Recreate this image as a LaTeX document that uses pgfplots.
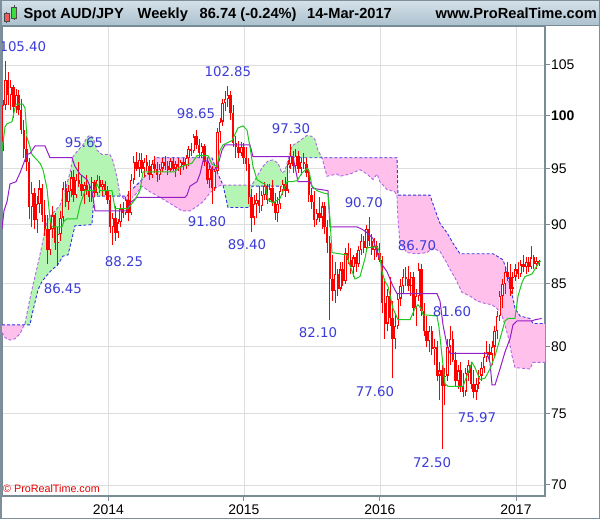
\documentclass[border=0pt]{standalone}
\usepackage{fontspec}
\setmainfont{Liberation Sans}
\newfontfamily\dejavu{DejaVu Sans}
\usepackage{pgfplots}
\pgfplotsset{compat=1.18}
\usepackage{pgfplotstable}

\definecolor{candlered}{RGB}{255,0,0}
\definecolor{tenkan}{RGB}{30,200,30}
\definecolor{kijun}{RGB}{150,30,200}
\definecolor{spanA}{RGB}{176,100,230}
\definecolor{spanB}{RGB}{50,50,230}
\definecolor{cloudgreen}{RGB}{180,245,180}
\definecolor{cloudpink}{RGB}{255,192,235}
\definecolor{lblblue}{RGB}{60,60,215}
\definecolor{gridgray}{RGB}{222,222,222}
\definecolor{axisgray}{RGB}{120,140,150}
\definecolor{hdrtop}{RGB}{214,226,234}
\definecolor{hdrbot}{RGB}{170,192,205}
\definecolor{bordergray}{RGB}{125,143,155}

\pgfplotstableread{
w o h l c
0 97.5 101.5 96.6 101.0
1 101.0 105.4 100.5 103.5
2 103.5 104.3 101.0 102.0
3 102.0 103.5 100.5 102.8
4 102.8 103.0 99.8 100.8
5 100.8 102.6 100.2 102.0
6 102.0 102.5 100.0 100.5
7 100.5 101.6 98.2 98.6
8 98.6 99.6 96.0 96.8
9 96.8 98.0 94.8 95.6
10 95.6 96.0 90.5 91.5
11 91.5 93.8 89.8 92.8
12 92.8 93.2 89.6 90.4
13 90.4 92.5 89.3 91.8
14 91.8 94.0 91.0 93.2
15 93.2 93.6 90.2 90.8
16 90.8 92.2 89.0 89.6
17 89.6 90.8 86.6 87.8
18 87.8 90.3 87.4 89.6
19 89.6 91.6 88.8 90.8
20 90.8 91.0 87.8 88.4
21 88.4 89.8 86.45 89.2
22 89.2 91.2 88.6 90.6
23 90.6 93.8 90.2 93.2
24 93.2 93.9 91.5 92.0
25 92.0 93.5 91.3 93.0
26 93.0 94.8 92.4 94.2
27 94.2 94.9 92.0 92.6
28 92.6 94.5 92.3 94.0
29 94.0 95.65 93.3 93.6
30 93.6 94.4 92.5 93.0
31 93.0 93.8 91.8 93.5
32 93.5 94.4 92.6 93.0
33 93.0 93.6 92.0 92.4
34 92.4 94.2 92.0 93.8
35 93.8 94.0 92.4 92.8
36 92.8 94.4 92.6 94.0
37 94.0 94.3 92.8 93.3
38 93.3 94.0 92.5 93.6
39 93.6 93.9 92.6 93.0
40 93.0 93.4 91.8 92.2
41 92.2 92.6 89.3 89.8
42 89.8 91.0 88.25 90.6
43 90.6 91.6 88.6 89.3
44 89.3 90.5 88.8 90.2
45 90.2 91.8 89.8 91.4
46 91.4 92.0 90.6 91.0
47 91.0 92.4 90.8 92.2
48 92.2 93.0 90.3 91.0
49 91.0 94.5 90.8 94.0
50 94.0 96.2 93.6 95.6
51 95.6 96.5 94.8 95.0
52 95.0 96.4 94.2 95.8
53 95.8 96.4 94.6 95.0
54 95.0 96.0 94.2 95.6
55 95.6 96.3 94.8 95.2
56 95.2 95.8 94.0 94.4
57 94.4 95.8 94.1 95.4
58 95.4 96.2 94.6 95.0
59 95.0 95.6 93.8 94.4
60 94.4 95.4 94.0 95.0
61 95.0 96.0 94.7 95.6
62 95.6 96.2 94.9 95.2
63 95.2 95.7 94.4 94.9
64 94.9 96.0 94.7 95.7
65 95.7 96.1 94.8 95.0
66 95.0 95.7 94.2 95.4
67 95.4 96.0 94.8 95.1
68 95.1 95.8 94.4 95.6
69 95.6 96.0 94.9 95.3
70 95.3 96.3 95.0 96.0
71 96.0 97.1 95.2 96.8
72 96.8 97.4 96.2 96.6
73 96.6 98.2 96.4 98.0
74 98.0 98.65 96.8 97.2
75 97.2 97.8 96.0 96.4
76 96.4 97.4 96.0 97.1
77 97.1 97.3 95.2 95.6
78 95.6 96.0 93.6 94.0
79 94.0 95.5 93.2 95.0
80 95.0 95.2 91.8 93.2
81 93.2 95.0 93.0 94.8
82 94.8 98.8 94.6 98.4
83 98.4 99.8 97.4 99.4
84 99.4 101.6 99.0 101.2
85 101.2 102.4 100.4 101.6
86 101.6 102.85 100.8 102.0
87 102.0 102.4 99.6 100.2
88 100.2 101.0 97.0 97.4
89 97.4 98.0 96.0 97.0
90 97.0 97.6 96.0 96.4
91 96.4 97.5 96.2 97.0
92 97.0 97.4 95.4 96.0
93 96.0 97.0 94.8 95.4
94 95.4 96.0 91.8 92.4
95 92.4 93.0 89.4 90.6
96 90.6 92.6 90.0 91.8
97 91.8 92.8 90.6 92.2
98 92.2 93.4 91.0 91.6
99 91.6 93.0 91.2 92.6
100 92.6 93.8 92.2 93.4
101 93.4 93.6 91.8 92.2
102 92.2 93.6 92.0 93.2
103 93.2 94.0 91.6 92.0
104 92.0 92.8 90.4 91.0
105 91.0 92.4 90.2 91.8
106 91.8 93.4 91.4 93.0
107 93.0 94.0 92.6 93.6
108 93.6 94.2 92.4 93.0
109 93.0 95.8 92.8 95.4
110 95.4 97.3 95.0 96.2
111 96.2 96.6 94.6 95.2
112 95.2 96.8 94.8 96.2
113 96.2 96.6 94.6 95.0
114 95.0 96.0 94.4 95.6
115 95.6 96.4 95.0 95.4
116 95.4 96.0 94.2 94.6
117 94.6 95.0 92.0 92.6
118 92.6 93.2 91.4 92.0
119 92.0 93.0 89.8 90.4
120 90.4 91.4 90.0 91.0
121 91.0 92.4 90.2 90.6
122 90.6 92.0 89.6 91.6
123 91.6 92.0 89.2 89.8
124 89.8 90.4 87.6 88.4
125 88.4 89.0 82.1 85.4
126 85.4 87.4 83.6 84.4
127 84.4 86.8 83.4 85.8
128 85.8 86.2 84.0 84.6
129 84.6 86.8 84.4 86.2
130 86.2 86.8 84.8 85.2
131 85.2 88.0 85.0 87.6
132 87.6 88.4 86.6 87.0
133 87.0 88.0 85.8 86.4
134 86.4 87.4 85.6 87.2
135 87.2 87.6 86.0 86.6
136 86.6 88.2 86.4 87.8
137 87.8 89.2 87.4 88.6
138 88.6 89.0 87.6 88.0
139 88.0 90.0 87.8 89.6
140 89.6 90.7 88.2 88.6
141 88.6 89.2 87.4 87.8
142 87.8 88.8 87.0 88.2
143 88.2 88.6 87.2 87.6
144 87.6 88.4 86.8 87.0
145 87.0 87.3 82.6 83.4
146 83.4 85.2 80.6 81.8
147 81.8 84.6 81.2 84.0
148 84.0 85.6 81.6 82.2
149 82.2 83.6 77.6 80.6
150 80.6 82.6 79.8 81.6
151 81.6 84.2 81.4 83.8
152 83.8 85.4 83.2 84.8
153 84.8 86.2 84.2 85.6
154 85.6 86.4 84.8 85.4
155 85.4 86.5 84.4 84.8
156 84.8 86.0 84.0 85.6
157 85.6 86.0 82.4 83.0
158 83.0 84.6 81.6 84.0
159 84.0 86.7 83.6 86.2
160 86.2 86.6 82.4 82.8
161 82.8 83.4 80.8 81.2
162 81.2 82.4 80.0 80.4
163 80.4 81.6 79.6 81.2
164 81.2 81.6 79.4 79.8
165 79.8 80.6 78.6 80.0
166 80.0 80.4 77.4 77.8
167 77.8 78.8 76.0 78.2
168 78.2 78.6 72.5 77.0
169 77.0 78.4 75.6 77.8
170 77.8 80.6 77.4 80.0
171 80.0 81.6 78.6 80.6
172 80.6 81.2 78.8 79.0
173 79.0 79.6 77.0 77.4
174 77.4 78.6 76.8 78.2
175 78.2 78.8 76.6 77.0
176 77.0 78.0 76.2 76.6
177 76.6 78.4 76.3 78.0
178 78.0 79.0 77.4 78.6
179 78.6 78.8 76.8 77.2
180 77.2 78.2 76.1 76.6
181 76.6 77.6 75.97 77.2
182 77.2 78.2 76.8 77.8
183 77.8 78.8 77.4 78.4
184 78.4 79.6 78.0 79.2
185 79.2 80.4 78.8 79.6
186 79.6 80.2 78.8 79.4
187 79.4 80.4 78.6 80.0
188 80.0 81.6 79.2 81.2
189 81.2 82.8 80.6 82.4
190 82.4 84.4 82.0 84.0
191 84.0 85.4 83.0 85.0
192 85.0 86.4 84.2 86.0
193 86.0 86.8 85.2 85.6
194 85.6 86.6 84.0 84.6
195 84.6 86.0 84.2 85.6
196 85.6 86.6 85.2 86.2
197 86.2 86.8 85.4 85.8
198 85.8 87.0 85.6 86.6
199 86.6 87.4 86.0 86.4
200 86.4 87.2 85.8 86.8
201 86.8 87.2 86.0 86.4
202 86.4 88.2 86.2 87.2
203 87.2 87.4 86.2 86.6
204 86.6 87.2 86.2 86.9
205 86.9 87.0 86.5 86.74
}\candles

\begin{document}
\begin{tikzpicture}
\path[use as bounding box] (0bp,0bp) rectangle (600bp,519bp);
\fill[white] (0bp,0bp) rectangle (600bp,519bp);
\begin{axis}[
  at={(2bp,23bp)}, anchor=south west,
  scale only axis, width=543bp, height=470bp,
  xmin=-0.38, xmax=207.27,
  ymode=log, ymin=69.26, ymax=109.03,
  xtick={40.27,92.16,144.17,196.18},
  xticklabels={2014,2015,2016,2017},
  ytick={70,75,80,85,90,95,100,105},
  yticklabels={70,75,80,85,90,95,\textbf{100},105},
  minor tick num=0,
  xtick pos=bottom, ytick pos=right,
  yticklabel pos=right,
  tick align=outside,
  major tick length=5bp,
  tick style={draw=axisgray, line width=1bp},
  grid=major,
  major grid style={draw=gridgray, line width=0.8bp},
  axis line style={draw=axisgray, line width=1.2bp},
  ticklabel style={font=\fontsize{14}{16}\selectfont, text=black},
  yticklabel style={xshift=-2.5bp},
  clip=true,
]
% Ichimoku cloud: areas between the two spans
\addplot[fill=cloudpink, draw=none, forget plot] coordinates {
(-0.38,81.7) (8.16,81.7) (7.65,81.5) (6.50,81.0) (4.59,80.6) (2.68,80.5) (0.76,80.7) (-0.38,81.1)
} -- cycle;
\addplot[fill=cloudgreen, draw=none, forget plot] coordinates {
(8.16,81.7) (8.41,81.8) (10.33,83.8) (11.47,84.9) (13.0,86.3) (14.91,88.2) (16.06,89.6) (17.21,90.5) (21.80,91.7) (23.71,93.0) (25.62,94.6) (26.77,96.1) (28.68,96.7) (30.59,97.2) (32.12,97.9) (33.27,98.1) (34.42,97.9) (35.95,96.7) (37.86,96.3) (40.92,96.3) (42.07,95.7) (43.59,94.2) (44.74,92.6) (45.2,92.5) (34.80,92.5) (34.03,90.0) (27.53,89.9) (26.39,88.8) (24.86,87.4) (22.94,87.3) (21.03,86.6) (17.97,86.0) (14.91,85.2) (13.38,84.5) (12.24,83.5) (11.09,82.5) (10.33,81.7)
} -- cycle;
\addplot[fill=cloudpink, draw=none, forget plot] coordinates {
(45.2,92.5) (47.42,92.5) (49.71,93.2) (52.39,93.8) (56.21,94.8) (58.13,96.0) (79.92,96.0) (82.22,94.5) (84.13,93.5) (82.22,93.4) (79.16,92.8) (76.48,92.0) (74.19,91.6) (71.51,91.2) (68.45,91.2) (65.01,91.7) (60.04,92.4) (56.21,92.9) (53.15,93.4) (50.48,92.6) (48.57,92.2) (46.65,92.2)
} -- cycle;
\addplot[fill=cloudgreen, draw=none, forget plot] coordinates {
(84.13,93.5) (95.22,93.5) (97.13,94.3) (99.43,95.2) (101.34,95.7) (103.25,95.8) (105.16,95.5) (106.69,94.6) (107.84,94.8) (108.99,95.8) (110.52,97.1) (113.58,97.6) (116.25,98.1) (118.16,98.0) (119.31,97.7) (120.46,96.7) (121.99,96.0) (109.75,96.0) (108.99,93.4) (95.22,93.4) (94.46,91.5) (86.04,91.5)
} -- cycle;
\addplot[fill=cloudpink, draw=none, forget plot] coordinates {
(121.99,96.0) (150.67,96.0) (151.05,92.6) (163.29,92.6) (165.20,91.3) (167.11,90.1) (169.79,89.3) (172.08,88.4) (174.76,87.5) (187.38,87.5) (191.20,87.0) (192.73,86.0) (193.88,84.8) (195.03,83.8) (195.79,83.0) (197.71,82.4) (201.53,82.2) (202.68,81.8) (207.27,81.8) (207.27,78.8) (202.68,78.8) (201.53,78.3) (195.79,78.4) (194.65,79.3) (193.50,80.5) (191.97,81.7) (190.82,82.4) (188.91,83.0) (187.00,83.3) (184.32,83.4) (181.26,83.6) (178.59,84.0) (175.53,84.3) (172.85,85.5) (170.94,86.2) (169.79,86.7) (167.11,87.7) (164.44,88.0) (162.14,87.6) (158.32,87.5) (154.49,87.6) (151.82,88.4) (151.05,90.5) (150.67,92.5) (149.90,92.9) (146.85,93.1) (144.17,93.8) (143.02,94.5) (141.49,94.0) (139.20,94.5) (136.52,94.9) (132.70,94.5) (128.87,94.3) (127.72,94.5) (123.90,94.3)
} -- cycle;
% Senkou span A and B (dashed)
\addplot[spanA, line width=0.9bp, dash pattern=on 3bp off 2bp, forget plot] coordinates {
(-0.38,81.1) (0.76,80.7) (2.68,80.5) (4.59,80.6) (6.50,81.0) (7.65,81.5) (8.41,81.8) (10.33,83.8) (11.47,84.9) (13.0,86.3) (14.91,88.2) (16.06,89.6) (17.21,90.5) (21.80,91.7) (23.71,93.0) (25.62,94.6) (26.77,96.1) (28.68,96.7) (30.59,97.2) (32.12,97.9) (33.27,98.1) (34.42,97.9) (35.95,96.7) (37.86,96.3) (40.92,96.3) (42.07,95.7) (43.59,94.2) (44.74,92.6) (46.65,92.2) (48.57,92.2) (50.48,92.6) (53.15,93.4) (56.21,92.9) (60.04,92.4) (65.01,91.7) (68.45,91.2) (71.51,91.2) (74.19,91.6) (76.48,92.0) (79.16,92.8) (82.22,93.4) (84.13,93.5) (95.22,93.5) (97.13,94.3) (99.43,95.2) (101.34,95.7) (103.25,95.8) (105.16,95.5) (106.69,94.6) (107.84,94.8) (108.99,95.8) (110.52,97.1) (113.58,97.6) (116.25,98.1) (118.16,98.0) (119.31,97.7) (120.46,96.7) (121.99,96.0) (123.90,94.3) (127.72,94.5) (128.87,94.3) (132.70,94.5) (136.52,94.9) (139.20,94.5) (141.49,94.0) (143.02,94.5) (144.17,93.8) (146.85,93.1) (149.90,92.9) (150.67,92.5) (151.05,90.5) (151.82,88.4) (154.49,87.6) (158.32,87.5) (162.14,87.6) (164.44,88.0) (167.11,87.7) (169.79,86.7) (170.94,86.2) (172.85,85.5) (175.53,84.3) (178.59,84.0) (181.26,83.6) (184.32,83.4) (187.00,83.3) (188.91,83.0) (190.82,82.4) (191.97,81.7) (193.50,80.5) (194.65,79.3) (195.79,78.4) (201.53,78.3) (202.68,78.8) (207.27,78.8)
};
\addplot[spanB, line width=0.9bp, dash pattern=on 3bp off 2bp, forget plot] coordinates {
(-0.38,81.7) (10.33,81.7) (11.09,82.5) (12.24,83.5) (13.38,84.5) (14.91,85.2) (17.97,86.0) (21.03,86.6) (22.94,87.3) (24.86,87.4) (26.39,88.8) (27.53,89.9) (34.03,90.0) (34.80,92.5) (47.42,92.5) (49.71,93.2) (52.39,93.8) (56.21,94.8) (58.13,96.0) (79.92,96.0) (82.22,94.5) (84.13,93.5) (86.04,91.5) (94.46,91.5) (95.22,93.4) (108.99,93.4) (109.75,96.0) (150.67,96.0) (151.05,92.6) (163.29,92.6) (165.20,91.3) (167.11,90.1) (169.79,89.3) (172.08,88.4) (174.76,87.5) (187.38,87.5) (191.20,87.0) (192.73,86.0) (193.88,84.8) (195.03,83.8) (195.79,83.0) (197.71,82.4) (201.53,82.2) (202.68,81.8) (207.27,81.8)
};

% candles: wick and body of every week, read from the table;
% rising weeks get a hollow (white) body centre
\pgfplotsinvokeforeach{0,...,205}{
  \pgfplotstablegetelem{#1}{o}\of\candles \let\cO\pgfplotsretval
  \pgfplotstablegetelem{#1}{h}\of\candles \let\cH\pgfplotsretval
  \pgfplotstablegetelem{#1}{l}\of\candles \let\cL\pgfplotsretval
  \pgfplotstablegetelem{#1}{c}\of\candles \let\cC\pgfplotsretval
  \pgfmathsetmacro\cTop{\cC/1.0012}%
  \pgfmathsetmacro\cBot{\cO*1.0012}%
  \pgfmathtruncatemacro\cUp{(\cC>\cO)*(\cTop>\cBot)}%
  \edef\candlecmd{%
    \noexpand\addplot[candlered, line width=0.9bp, forget plot] coordinates {(#1,\cL) (#1,\cH)};%
    \noexpand\addplot[candlered, line width=2.4bp, forget plot] coordinates {(#1,\cO) (#1,\cC)};%
  }%
  \candlecmd
  \ifnum\cUp=1
    \edef\candlecmd{%
      \noexpand\addplot[white, line width=0.8bp, forget plot] coordinates {(#1,\cBot) (#1,\cTop)};%
    }%
    \candlecmd
  \fi
}

% Kijun
\addplot[kijun, line width=1bp, forget plot] coordinates {
(-0.38,89.6) (0.38,91.2) (1.53,92.0) (2.68,93.6) (4.97,93.8) (6.50,94.6) (9.18,96.3) (10.33,96.4) (12.24,97.1) (16.06,97.1) (17.97,96.0) (26.39,96.0) (27.53,95.2) (29.45,94.5) (32.12,94.0) (34.03,93.0) (35.18,91.2) (47.42,91.2) (48.57,91.9) (51.24,92.4) (69.60,92.4) (70.36,92.6) (71.51,93.4) (74.19,93.8) (75.33,94.5) (76.48,95.7) (78.39,95.7) (79.92,94.9) (81.84,95.0) (83.75,96.7) (84.89,97.2) (94.46,97.2) (95.60,96.1) (110.90,96.1) (112.81,93.8) (117.40,93.8) (118.55,93.2) (124.28,93.0) (125.05,89.8) (135.37,89.8) (137.29,89.6) (139.20,89.3) (141.49,88.8) (143.02,87.6) (144.93,86.6) (146.85,86.0) (149.14,84.8) (150.67,84.2) (165.97,84.2) (167.11,83.6) (168.26,81.7) (169.79,80.1) (170.94,79.5) (185.09,79.5) (186.23,78.8) (187.00,77.1) (188.15,77.1) (190.06,78.3) (191.97,79.6) (193.88,80.6) (195.03,81.7) (196.56,82.0) (202.29,82.0) (203.44,82.1) (206.0,82.2)
};
% Tenkan
\addplot[tenkan, line width=1bp, forget plot] coordinates {
(-0.38,96.6) (0.76,98.9) (1.53,99.2) (3.44,99.4) (4.21,100.3) (4.97,101.1) (7.65,101.1) (8.41,100.7) (9.18,97.9) (10.33,97.0) (11.09,96.3) (14.15,95.5) (15.30,94.9) (16.83,93.2) (17.97,90.5) (18.74,89.8) (22.56,89.8) (23.33,90.3) (24.47,90.5) (28.30,90.5) (29.45,91.7) (31.36,93.0) (35.18,93.0) (35.95,93.6) (37.09,93.0) (41.68,93.0) (42.83,91.4) (47.80,91.4) (50.48,92.2) (52.39,93.0) (53.54,94.7) (65.77,94.7) (66.92,95.0) (69.60,95.3) (72.28,95.5) (74.19,96.2) (78.39,96.2) (79.92,95.4) (81.84,95.2) (82.98,96.7) (84.13,97.2) (87.57,97.6) (89.87,98.8) (91.78,99.0) (93.31,98.6) (94.46,97.0) (95.60,95.2) (97.13,94.0) (99.04,93.7) (100.19,93.6) (101.34,92.2) (103.25,91.9) (105.93,92.3) (108.60,93.8) (110.52,93.8) (112.43,93.9) (114.34,94.6) (116.25,95.0) (117.02,94.8) (118.16,93.4) (120.08,93.0) (122.37,92.8) (124.28,92.7) (125.05,90.5) (125.81,87.6) (131.55,87.4) (132.70,86.5) (134.61,85.4) (136.52,85.6) (138.43,87.1) (139.20,88.0) (143.02,88.1) (143.79,87.8) (144.93,86.0) (146.08,85.2) (147.23,84.8) (149.14,83.0) (151.05,82.1) (155.64,82.1) (157.55,83.0) (158.70,83.3) (159.85,83.0) (160.61,82.5) (165.97,82.4) (166.73,81.5) (167.88,79.3) (169.02,77.2) (170.17,77.0) (175.91,77.0) (177.44,77.8) (179.35,78.8) (180.50,78.4) (182.41,77.5) (184.32,77.6) (186.23,78.3) (188.15,79.3) (190.06,80.6) (191.97,82.0) (193.12,82.2) (195.79,82.2) (196.94,84.0) (198.47,85.1) (199.62,85.6) (202.29,85.8) (204.21,86.5) (205.6,86.9)
};

% price annotations
\begin{scope}[every node/.style={font=\dejavu\fontsize{13.4}{15}\selectfont, text=lblblue, inner sep=0pt}]
\node at (axis cs:7.6,106.84) {105.40};
\node at (axis cs:31.0,97.38) {95.65};
\node at (axis cs:22.9,84.58) {86.45};
\node at (axis cs:46.3,86.81) {88.25};
\node at (axis cs:73.8,100.15) {98.65};
\node at (axis cs:86.0,104.3) {102.85};
\node at (axis cs:78.0,90.24) {91.80};
\node at (axis cs:93.3,88.26) {89.40};
\node at (axis cs:110.1,98.71) {97.30};
\node at (axis cs:138.0,91.90) {90.70};
\node at (axis cs:158.3,88.17) {86.70};
\node at (axis cs:120.5,81.06) {82.10};
\node at (axis cs:171.7,82.73) {81.60};
\node at (axis cs:142.3,76.57) {77.60};
\node at (axis cs:181.3,74.68) {75.97};
\node at (axis cs:164.1,71.50) {72.50};
\end{scope}
\end{axis}

% header bar
\shade[top color=hdrtop, bottom color=hdrbot] (0bp,493bp) rectangle (600bp,519bp);
\draw[axisgray, line width=1bp] (0bp,493.5bp) -- (600bp,493.5bp);
% candle icon
\draw[black!70, line width=0.6bp] (6.5bp,495.5bp) -- (6.5bp,507bp);
\filldraw[fill={rgb,255:red,240;green,90;blue,90}, draw=black!70, line width=0.6bp] (4bp,498bp) rectangle (9bp,506bp);
\draw[black!70, line width=0.6bp] (13.8bp,499bp) -- (13.8bp,514bp);
\filldraw[fill={rgb,255:red,60;green,220;blue,60}, draw=black!70, line width=0.6bp] (11.3bp,500.5bp) rectangle (16.3bp,512bp);
\begin{scope}[every node/.style={font=\bfseries\fontsize{14.7}{16}\selectfont, inner sep=0pt, anchor=base west}]
\node at (23.5bp,500.5bp) {Spot AUD/JPY};
\node at (137.5bp,500.5bp) {Weekly};
\node at (199.5bp,500.5bp) {86.74 (-0.24\%)};
\node at (307bp,500.5bp) {14-Mar-2017};
\node[anchor=base east] at (597bp,500.5bp) {www.ProRealTime.com};
\end{scope}
% copyright
\node[font=\fontsize{10.8}{12}\selectfont, text={rgb,255:red,230;green,0;blue,0}, inner sep=0pt, anchor=west] at (3bp,30bp) {\textcopyright\ ProRealTime.com};
% outer border
\draw[bordergray, line width=1.5bp] (0.75bp,0.75bp) rectangle (599.25bp,518.25bp);
\end{tikzpicture}
\end{document}
